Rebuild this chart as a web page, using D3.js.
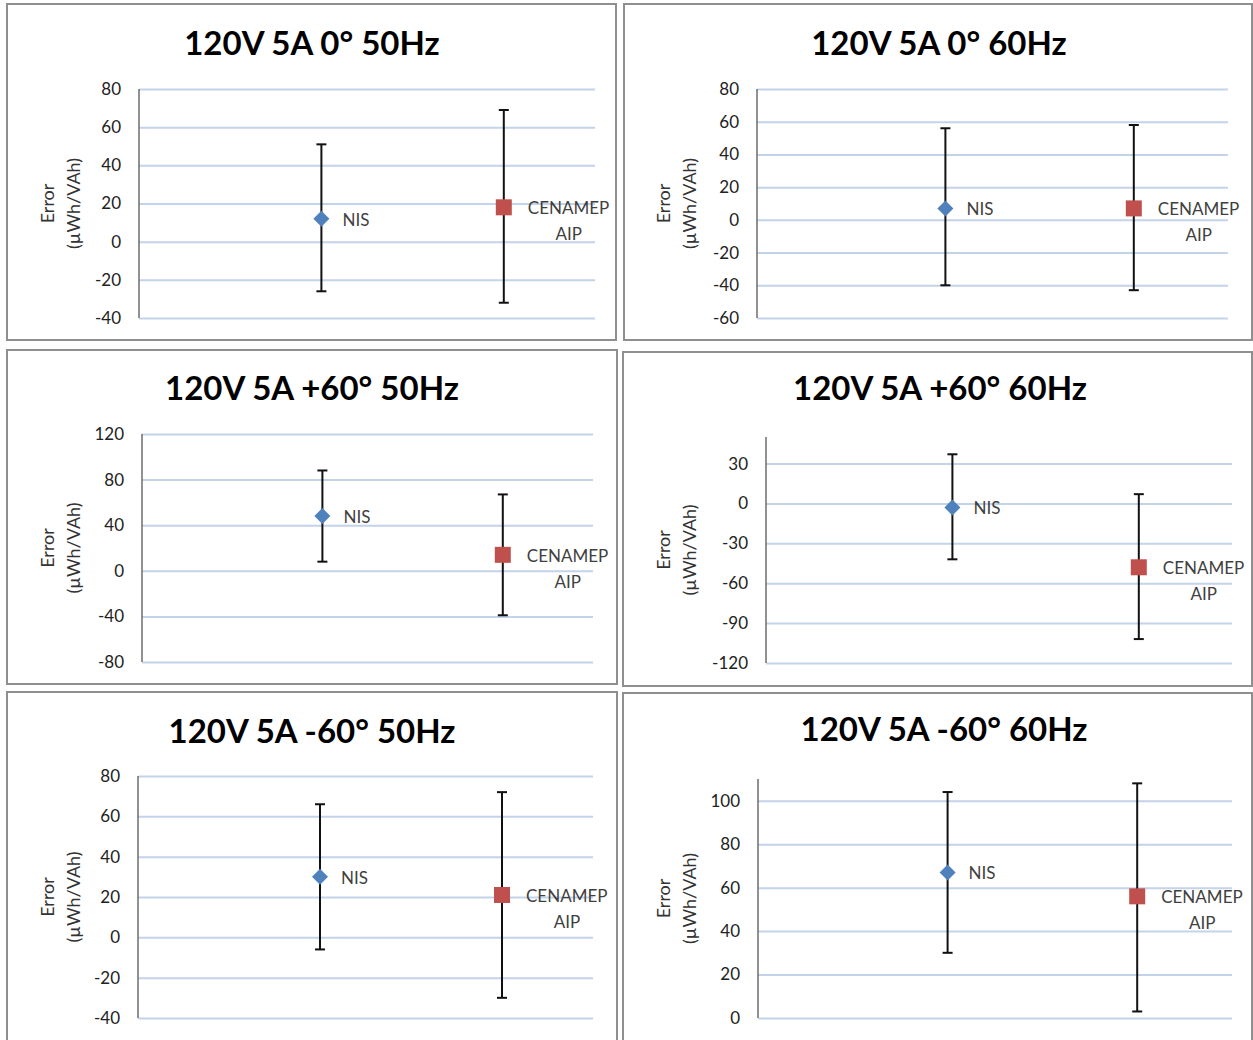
<!DOCTYPE html>
<html>
<head>
<meta charset="utf-8">
<script src="https://cdn.jsdelivr.net/npm/d3@7"></script>
<style>
  body { margin: 0; background: #fff; }
  svg { display: block; }
  text { font-family: Lato, "Open Sans", sans-serif; }
</style>
</head>
<body>
<div id="chart"></div>
<script>
// values
var titles = ["120V 5A 0° 50Hz", "120V 5A 0° 60Hz", "120V 5A +60° 50Hz",
              "120V 5A +60° 60Hz", "120V 5A -60° 50Hz", "120V 5A -60° 60Hz"];
var seriesNames = [["NIS"], ["CENAMEP", "AIP"]];
var seriesX = [1, 2];
var nisValue = [12, 7, 48, -3, 30, 67];
var nisLow   = [-26, -40, 8, -42, -6, 30];
var nisHigh  = [51, 56, 88, 37, 66, 104];
var cenValue = [18, 7, 14, -48, 21, 56];
var cenLow   = [-32, -43, -39, -102, -30, 3];
var cenHigh  = [69, 58, 67, 7, 72, 108];
var yMin  = [-40, -60, -80, -120, -40, 0];
var yMax  = [80, 80, 120, 50, 80, 110];
var yStep = [20, 20, 40, 30, 20, 20];
var axisTitle = ["Error", "(µWh/VAh)"];

// where each panel sits on the page
var layout = [
  {fx: 7,   fy: 4,   fw: 609, fh: 336, l: 139, r: 595,  t: 89,  b: 318,  tx: 312, ty: 43,  ax: 48},
  {fx: 624, fy: 4,   fw: 628, fh: 336, l: 757, r: 1228, t: 89,  b: 318,  tx: 939, ty: 43,  ax: 664},
  {fx: 7,   fy: 350, fw: 610, fh: 334, l: 142, r: 593,  t: 434, b: 662,  tx: 312, ty: 388, ax: 48},
  {fx: 623, fy: 352, fw: 629, fh: 334, l: 766, r: 1232, t: 437, b: 663,  tx: 940, ty: 388, ax: 664},
  {fx: 7,   fy: 692, fw: 610, fh: 360, l: 138, r: 593,  t: 776, b: 1018, tx: 312, ty: 731, ax: 48},
  {fx: 623, fy: 693, fw: 629, fh: 360, l: 758, r: 1232, t: 779, b: 1018, tx: 944, ty: 729, ax: 664}
];

var colors = ["#4F81BD", "#C0504D"];

var svg = d3.select("#chart")
  .append("svg")
    .attr("width", 1253)
    .attr("height", 1040);

titles.forEach(function(title, i) {
  var p = layout[i];
  var g = svg.append("g");

  g.append("rect")
    .attr("x", p.fx).attr("y", p.fy)
    .attr("width", p.fw).attr("height", p.fh)
    .attr("fill", "#fff")
    .attr("stroke", "#8f8f8f")
    .attr("stroke-width", 2);

  g.append("text")
    .attr("x", p.tx).attr("y", p.ty)
    .attr("dy", "0.36em")
    .attr("text-anchor", "middle")
    .style("font-size", "33px")
    .style("font-weight", "bold")
    .attr("fill", "#000")
    .text(title);

  var x = d3.scaleLinear().domain([0, 2.5]).range([p.l, p.r]);
  var y = d3.scaleLinear().domain([yMin[i], yMax[i]]).range([p.b, p.t]);
  var ticks = d3.range(yMin[i], yMax[i] + 0.001, yStep[i]);

  // gridlines
  g.append("g")
    .attr("transform", "translate(" + p.l + ",0)")
    .call(d3.axisLeft(y).tickValues(ticks).tickSize(-(p.r - p.l)).tickFormat(""))
    .call(function(a) {
      a.select(".domain").remove();
      a.selectAll("line").attr("stroke", "#c3d3ea").attr("stroke-width", 2);
    });

  // tick labels
  g.append("g")
    .attr("transform", "translate(" + p.l + ",0)")
    .call(d3.axisLeft(y).tickValues(ticks).tickSize(0).tickPadding(18)
      .tickFormat(function(d) { return String(d); }))
    .call(function(a) {
      a.select(".domain").remove();
      a.selectAll("text")
        .style("font-size", "17px")
        .style("font-family", "Lato, sans-serif")
        .attr("fill", "#222");
    });

  // vertical axis line
  g.append("line")
    .attr("x1", p.l).attr("x2", p.l)
    .attr("y1", p.t).attr("y2", p.b)
    .attr("stroke", "#6d6d6d")
    .attr("stroke-width", 1.5);

  // axis title
  var mid = (p.t + p.b) / 2;
  g.append("text")
    .attr("transform", "translate(" + p.ax + "," + mid + ") rotate(-90)")
    .attr("text-anchor", "middle")
    .style("font-size", "18px")
    .attr("fill", "#333")
    .selectAll("tspan")
    .data(axisTitle)
    .enter()
    .append("tspan")
      .attr("x", 0)
      .attr("dy", function(d, k) { return k === 0 ? "0.35em" : "26px"; })
      .text(function(d) { return d; });

  var pts = [
    {x: seriesX[0], v: nisValue[i], lo: nisLow[i], hi: nisHigh[i], s: 0},
    {x: seriesX[1], v: cenValue[i], lo: cenLow[i], hi: cenHigh[i], s: 1}
  ];

  // error bars
  g.selectAll(".err")
    .data(pts)
    .enter()
    .append("line")
      .attr("x1", function(d) { return x(d.x); })
      .attr("x2", function(d) { return x(d.x); })
      .attr("y1", function(d) { return y(d.lo); })
      .attr("y2", function(d) { return y(d.hi); })
      .attr("stroke", "#111")
      .attr("stroke-width", 2);

  ["lo", "hi"].forEach(function(k) {
    g.selectAll(".cap" + k)
      .data(pts)
      .enter()
      .append("line")
        .attr("x1", function(d) { return x(d.x) - 5; })
        .attr("x2", function(d) { return x(d.x) + 5; })
        .attr("y1", function(d) { return y(d[k]); })
        .attr("y2", function(d) { return y(d[k]); })
        .attr("stroke", "#111")
        .attr("stroke-width", 2);
  });

  // markers
  g.selectAll(".mark")
    .data(pts)
    .enter()
    .append("path")
      .attr("transform", function(d) { return "translate(" + x(d.x) + "," + y(d.v) + ")"; })
      .attr("d", function(d) {
        return d.s === 0 ? "M0,-8L8,0L0,8L-8,0Z" : "M-8,-8H8V8H-8Z";
      })
      .attr("fill", function(d) { return colors[d.s]; });

  // data labels
  var lab = g.selectAll(".lab")
    .data(pts)
    .enter()
    .append("text")
      .attr("transform", function(d) {
        return "translate(" + (x(d.x) + 21) + "," + (y(d.v) + 1) + ")";
      })
      .style("font-size", "17px")
      .attr("fill", "#404040");

  lab.each(function(d) {
    var t = d3.select(this);
    var names = seriesNames[d.s];
    if (names.length === 1) {
      t.append("tspan").attr("x", 0).attr("dy", "0.35em").text(names[0]);
    } else {
      t.append("tspan").attr("x", 3).attr("dy", "0.35em").text(names[0]);
      t.append("tspan").attr("x", 44).attr("dy", "26px")
        .attr("text-anchor", "middle").text(names[1]);
    }
  });
});
</script>
</body>
</html>
